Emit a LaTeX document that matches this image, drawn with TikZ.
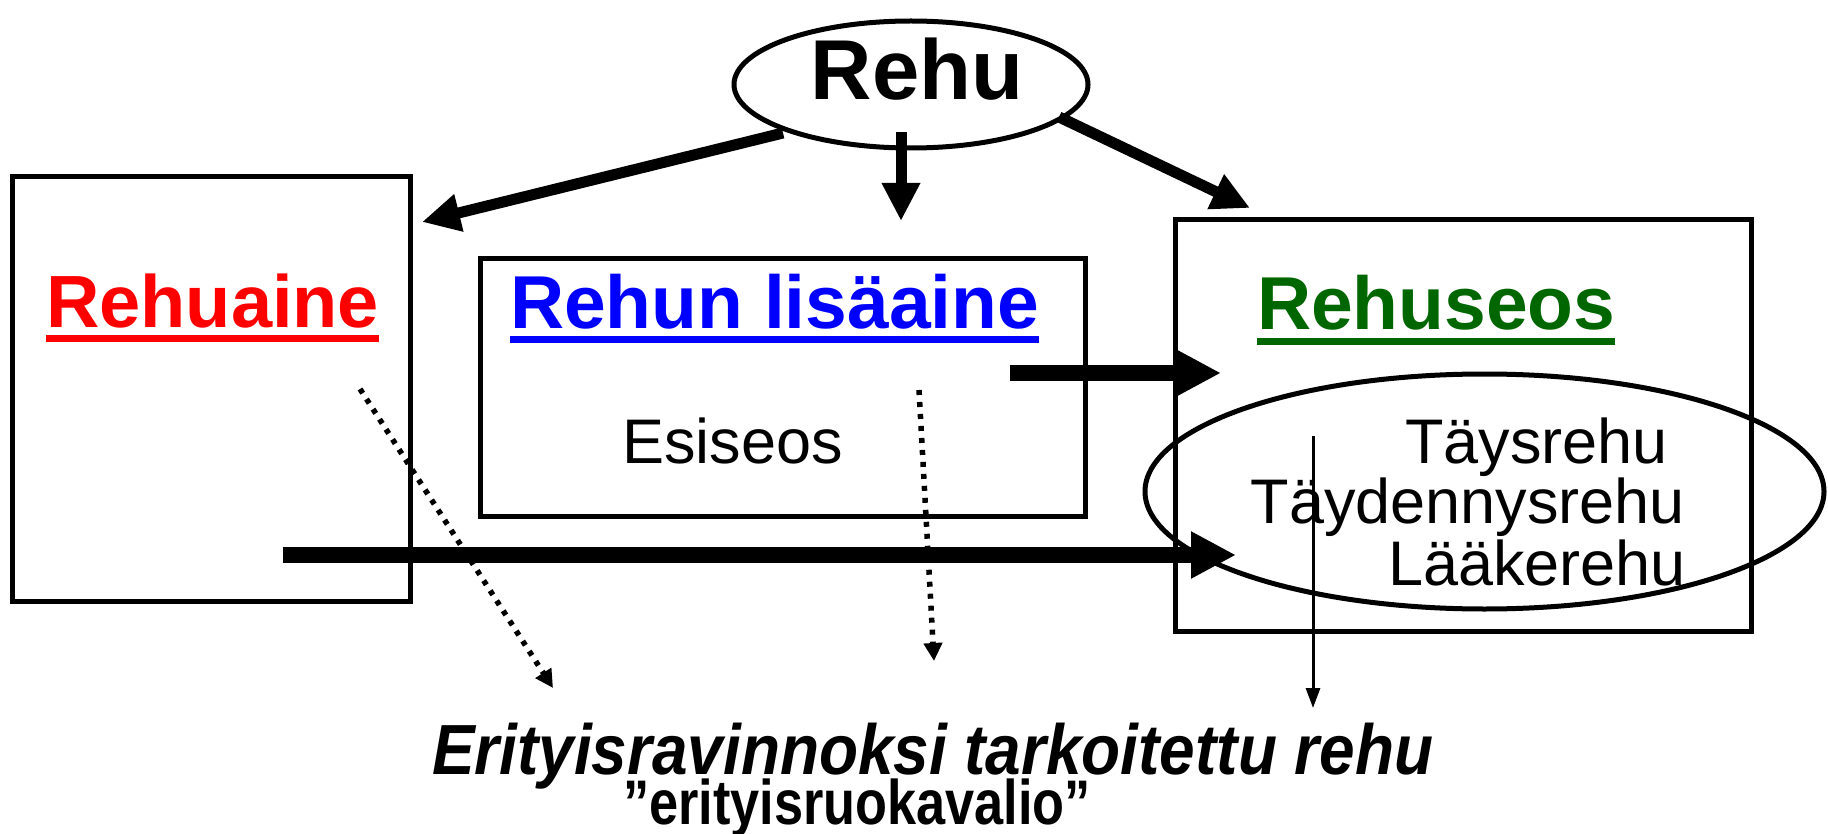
\documentclass[tikz,border=0pt]{standalone}
\usepackage{fontspec}
\setmainfont{Liberation Sans}
\usetikzlibrary{arrows.meta,shapes.geometric}
\definecolor{rgreen}{RGB}{0,102,0}
\tikzset{
  frame/.style={draw,line width=5pt,rectangle,inner sep=0pt},
  oval/.style={draw,ellipse,inner sep=0pt},
  big/.style={-{Triangle[length=45pt,width=44pt]},line width=16pt},
  mid/.style={-{Triangle[length=38pt,width=36pt]},line width=11pt},
  dots/.style={-{Triangle[length=18pt,width=18pt]},line width=5.5pt,dash pattern=on 5pt off 7pt},
  thin/.style={-{Triangle[length=20pt,width=14pt]},line width=3pt},
  txt/.style={inner sep=0pt,outer sep=0pt},
}
\newcommand{\fsz}[1]{\fontsize{#1}{#1}\selectfont}
\begin{document}
\begin{tikzpicture}[x=1pt,y=-1pt]
\useasboundingbox (0,0) rectangle (1828,834);
% boxes
\node[frame,minimum width=398pt,minimum height=424pt] (bA) at (211,389) {};
\node[frame,minimum width=605pt,minimum height=257pt] (bB) at (782.5,387.5) {};
\node[frame,minimum width=576pt,minimum height=411pt] (bC) at (1463,425.5) {};
% ellipses
\node[oval,line width=5pt,minimum width=354pt,minimum height=127pt] (rehu) at (911,84.5) {};
\node[oval,line width=5pt,minimum width=679pt,minimum height=235pt] (mix) at (1484.5,491.5) {};
% texts
\node[txt,anchor=base] (tRehu) at (917,100) {\fsz{85}\bfseries Rehu};
\node[txt,anchor=base west,text=red] (tA) at (46,327) {\fsz{74}\bfseries Rehuaine};
\node[txt,anchor=base west,text=blue] (tB) at (510,328) {\fsz{75}\bfseries Rehun lisäaine};
\node[txt,anchor=base west,text=rgreen] (tC) at (1257,330) {\fsz{75}\bfseries Rehuseos};
\draw[red,line width=7pt] ([yshift=-11pt]tA.base west) -- ([yshift=-11pt]tA.base east);
\draw[blue,line width=7pt] ([yshift=-11pt]tB.base west) -- ([yshift=-11pt]tB.base east);
\draw[rgreen,line width=7pt] ([yshift=-11pt]tC.base west) -- ([yshift=-11pt]tC.base east);
\node[txt,anchor=base west] (tEsi) at (622,463) {\fsz{63}Esiseos};
\node[txt,anchor=base east] (t1) at (1668,463) {\fsz{63}Täysrehu};
\node[txt,anchor=base east] (t2) at (1685,523) {\fsz{63}Täydennysrehu};
\node[txt,anchor=base east] (t3) at (1686,585) {\fsz{63}Lääkerehu};
\node[txt,anchor=base west] (tE) at (432,774) {\scalebox{0.9}[1]{\fsz{71}\bfseries\itshape Erityisravinnoksi tarkoitettu rehu}};
\node[txt,anchor=base west] (tQ) at (623,824) {\scalebox{0.83}[1]{\fsz{63}\bfseries ”erityisruokavalio”}};
% arrow end points
\coordinate (a1s) at (783,133);
\coordinate (a1e) at (422,222);
\coordinate (a2s) at (901,132);
\coordinate (a2e) at (901,221);
\coordinate (a3s) at (1059,117);
\coordinate (a3e) at (1250,208);
\coordinate (a4s) at (1010,373);
\coordinate (a4e) at (1221,373);
\coordinate (a5s) at (283,555);
\coordinate (a5e) at (1236,555);
\coordinate (d1s) at (360,389);
\coordinate (d1e) at (553,688);
\coordinate (d2s) at (919,390);
\coordinate (d2e) at (934,661);
\coordinate (t1s) at (1313,436);
\coordinate (t1e) at (1313,708);
% arrows
\draw[mid] (a1s) -- (a1e);
\draw[mid] (a2s) -- (a2e);
\draw[mid] (a3s) -- (a3e);
\draw[big] (a4s) -- (a4e);
\draw[big] (a5s) -- (a5e);
\draw[dots] (d1s) -- (d1e);
\draw[dots] (d2s) -- (d2e);
\draw[thin] (t1s) -- (t1e);
\end{tikzpicture}
\end{document}
